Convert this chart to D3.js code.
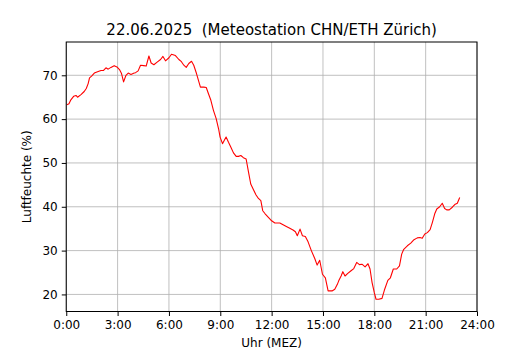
<!DOCTYPE html>
<html>
<head>
<meta charset="utf-8">
<script src="https://cdn.jsdelivr.net/npm/d3@7"></script>
<style>
  body{margin:0;background:#fff;}
  text{font-family:"DejaVu Sans",sans-serif;fill:#000;}
</style>
</head>
<body>
<div class="chart"></div>
<script>
//data: time of day in hours, relative humidity in %
const hours = [0.04,0.16,0.27,0.43,0.57,0.66,0.86,1.05,1.17,1.28,1.36,1.48,1.64,1.83,2.03,2.18,2.32,2.45,2.61,2.80,2.96,3.11,3.23,3.35,3.49,3.62,3.78,3.97,
  4.05,4.20,4.34,4.53,4.67,4.83,4.96,5.12,5.31,5.51,5.65,5.80,6.00,6.15,6.38,6.58,6.73,6.87,7.01,7.16,7.32,7.45,7.61,7.75,7.84,8.04,
  8.18,8.31,8.45,8.60,8.76,8.90,8.99,9.13,9.23,9.34,9.48,9.62,9.77,9.93,10.06,10.20,10.35,10.51,10.65,10.78,10.94,11.09,11.23,11.37,11.48,11.62,11.81,12.00,
  12.19,12.48,12.67,12.86,13.06,13.25,13.39,13.50,13.66,13.80,13.97,14.13,14.32,14.52,14.66,14.81,14.97,15.14,15.30,15.53,15.69,15.84,
  15.92,16.06,16.16,16.29,16.45,16.64,16.80,16.97,17.13,17.28,17.46,17.63,17.75,17.87,18.00,18.10,18.26,18.45,18.59,18.79,18.94,19.11,19.31,19.47,19.60,19.72,19.93,
  20.13,20.32,20.51,20.67,20.80,20.95,21.10,21.26,21.39,21.53,21.65,21.82,21.97,22.11,22.23,22.38,22.56,22.70,22.85,22.99];
const humidity = [63.3,63.5,64.4,65.2,65.4,65.0,65.6,66.3,67.0,68.1,69.4,69.8,70.5,70.8,71.1,71.1,71.7,71.4,71.8,72.2,71.9,71.3,70.4,68.5,70.0,70.5,70.2,70.5,
  70.6,71.0,72.3,72.2,72.1,74.4,72.8,72.4,73.0,73.6,74.3,73.3,74.0,74.8,74.5,73.6,73.1,72.3,71.8,72.7,73.2,72.3,70.4,68.5,67.3,67.3,
  67.2,65.8,64.3,62.0,60.1,57.8,55.9,54.4,55.1,55.9,54.7,53.6,52.3,51.5,51.5,51.7,51.2,50.9,47.9,45.2,43.9,42.7,41.9,41.4,39.1,38.4,37.6,36.8,
  36.3,36.3,35.9,35.5,35.1,34.7,34.3,33.4,34.9,33.4,33.2,32.0,30.0,28.2,26.7,27.8,24.6,23.8,20.8,20.8,21.2,22.3,
  23.1,24.2,25.2,24.2,24.8,25.4,25.9,27.3,26.8,26.9,26.3,27.0,25.8,22.7,20.4,18.9,18.9,19.1,21.0,23.2,23.8,25.8,25.8,26.5,29.2,30.3,31.1,
  31.7,32.5,32.9,33.0,32.8,33.8,34.1,34.8,36.4,38.4,39.5,40.0,40.8,39.6,39.3,39.3,39.9,40.5,40.8,42.1];
const xTicks = [0,3,6,9,12,15,18,21,24],
      xTickLabels = ["0:00","3:00","6:00","9:00","12:00","15:00","18:00","21:00","24:00"],
      yTicks = [20,30,40,50,60,70];
const title = "22.06.2025\u00a0\u00a0(Meteostation CHN/ETH Zürich)",
      xLabel = "Uhr (MEZ)",
      yLabel = "Luftfeuchte (%)";

//define dimensions of canvas
const width = 530,
      height = 350,
      margin = {top:42, right:53, bottom:38.5, left:66.25};

const points = hours.map((h,i)=>({h:h, v:humidity[i]}));

//y limits padded by 5% like the original plot
const ext = d3.extent(humidity),
      pad = (ext[1]-ext[0])*0.05;

const x = d3.scaleLinear()
    .domain([0,24])
    .range([margin.left, width-margin.right]);
const y = d3.scaleLinear()
    .domain([ext[0]-pad, ext[1]+pad])
    .range([height-margin.bottom, margin.top]);

const svg = d3.select(".chart")
    .append("svg")
    .attr("width", width)
    .attr("height", height);

//grid
svg.append("g")
    .attr("stroke", "#b0b0b0")
    .attr("stroke-width", 0.8)
    .selectAll("line")
    .data(xTicks)
    .enter().append("line")
    .attr("x1", d=>x(d)).attr("x2", d=>x(d))
    .attr("y1", margin.top).attr("y2", height-margin.bottom);
svg.append("g")
    .attr("stroke", "#b0b0b0")
    .attr("stroke-width", 0.8)
    .selectAll("line")
    .data(yTicks)
    .enter().append("line")
    .attr("x1", margin.left).attr("x2", width-margin.right)
    .attr("y1", d=>y(d)).attr("y2", d=>y(d));

//humidity line
const line = d3.line()
    .x(d=>x(d.h))
    .y(d=>y(d.v));
svg.append("path")
    .datum(points)
    .attr("fill", "none")
    .attr("stroke", "#ff0000")
    .attr("stroke-width", 1.1)
    .attr("stroke-linejoin", "round")
    .attr("d", line);

//axes
const xAxis = d3.axisBottom(x)
    .tickValues(xTicks)
    .tickFormat((d,i)=>xTickLabels[i])
    .tickSize(4.5)
    .tickPadding(4);
const yAxis = d3.axisLeft(y)
    .tickValues(yTicks)
    .tickSize(4.5)
    .tickPadding(4);

svg.append("g")
    .attr("transform", "translate(0,"+(height-margin.bottom)+")")
    .call(xAxis)
    .call(g=>g.select(".domain").remove())
    .call(g=>g.selectAll("text").style("font-size","12px").style("font-family","DejaVu Sans"));
svg.append("g")
    .attr("transform", "translate("+margin.left+",0)")
    .call(yAxis)
    .call(g=>g.select(".domain").remove())
    .call(g=>g.selectAll("text").style("font-size","12px").style("font-family","DejaVu Sans"));

//frame
svg.append("rect")
    .attr("x", margin.left)
    .attr("y", margin.top)
    .attr("width", width-margin.left-margin.right)
    .attr("height", height-margin.top-margin.bottom)
    .attr("fill", "none")
    .attr("stroke", "#000")
    .attr("stroke-width", 1);

//labels
svg.append("text")
    .attr("x", (margin.left+width-margin.right)/2)
    .attr("y", 34.5)
    .attr("text-anchor", "middle")
    .style("font-size", "15px")
    .text(title);
svg.append("text")
    .attr("x", (margin.left+width-margin.right)/2)
    .attr("y", 347)
    .attr("text-anchor", "middle")
    .style("font-size", "12px")
    .text(xLabel);
svg.append("text")
    .attr("transform", "translate(31,"+((margin.top+height-margin.bottom)/2)+") rotate(-90)")
    .attr("text-anchor", "middle")
    .style("font-size", "12px")
    .text(yLabel);
</script>
</body>
</html>
